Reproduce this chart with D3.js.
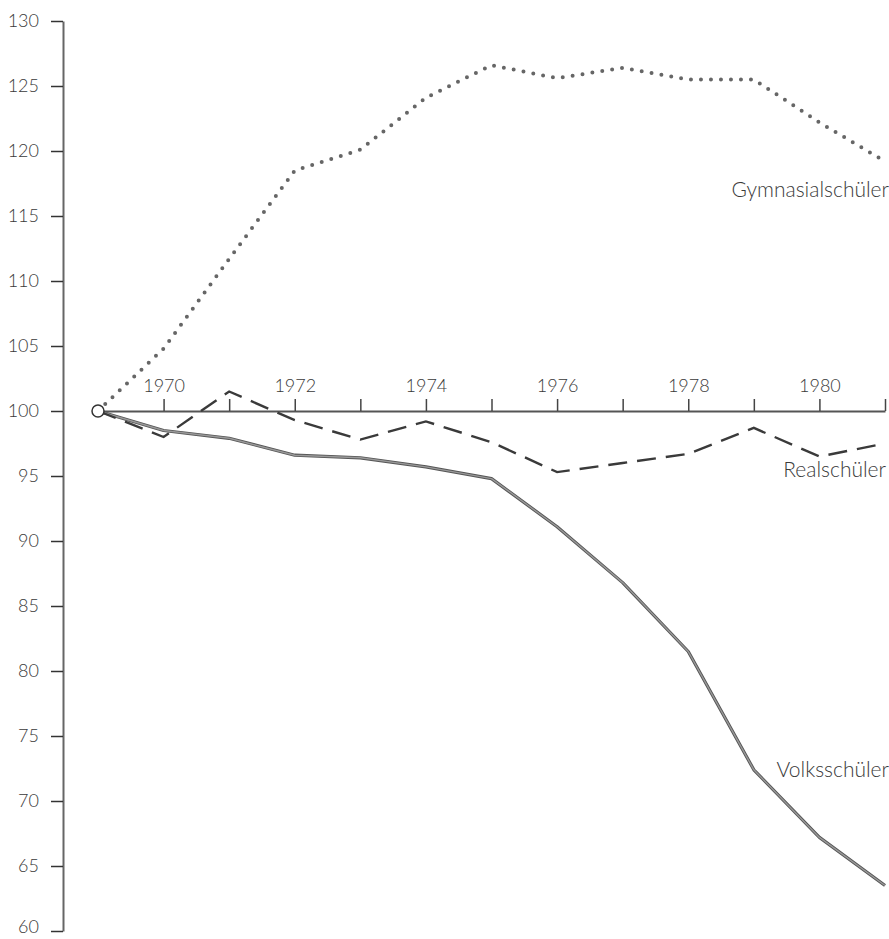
<!DOCTYPE html>
<html><head><meta charset="utf-8">
<script src="https://cdn.jsdelivr.net/npm/d3@7"></script>
<style>
html,body{margin:0;padding:0;background:#fff;}
svg text{font-family:Lato,"DejaVu Sans",sans-serif;font-weight:300;fill:#3a3a3a;}
</style></head>
<body>
<svg id="chart" width="889" height="939"></svg>
<script>
const years = [1969,1970,1971,1972,1973,1974,1975,1976,1977,1978,1979,1980,1981];
const gymnasial = [100,104.8,111.7,118.5,120.1,124.1,126.6,125.6,126.4,125.5,125.5,122.2,119.2];
const realschule = [100,98.0,101.5,99.3,97.8,99.2,97.6,95.3,96.0,96.7,98.7,96.5,97.5];
const volksschule = [100,98.5,97.9,96.6,96.4,95.7,94.8,91.1,86.8,81.5,72.4,67.2,63.5];
const yTicks = [60,65,70,75,80,85,90,95,100,105,110,115,120,125,130];
const xTicks = [1970,1971,1972,1973,1974,1975,1976,1977,1978,1979,1980,1981];
const xLabels = [1970,1972,1974,1976,1978,1980];
const seriesNames = ["Gymnasialschüler","Realschüler","Volksschüler"];

const svg = d3.select("#chart");
const x = d3.scaleLinear().domain([1969,1981]).range([98,885]);
const y = d3.scaleLinear().domain([60,130]).range([931,21]);

// y axis
const yAxis = svg.append("g").attr("transform","translate(63,0)")
  .call(d3.axisLeft(y).tickValues(yTicks).tickSize(12).tickSizeOuter(0).tickPadding(12));
yAxis.select(".domain").attr("stroke","#666").attr("stroke-width",2);
yAxis.selectAll(".tick line").attr("stroke","#333").attr("stroke-width",1.5);
yAxis.selectAll(".tick text").attr("font-size",18).style("font-family","Lato, sans-serif").style("font-weight",300).attr("fill","#3a3a3a")
  .attr("dy", d => d === 60 ? "0.1em" : "0.32em");

// x axis along 100
const xAxis = svg.append("g").attr("transform",`translate(0,${y(100)})`)
  .call(d3.axisTop(x).tickValues(xTicks).tickSize(12).tickSizeOuter(0).tickPadding(7)
    .tickFormat(d => xLabels.includes(d) ? String(d) : ""));
xAxis.select(".domain").attr("stroke","#555").attr("stroke-width",2);
xAxis.selectAll(".tick line").attr("stroke","#444").attr("stroke-width",1.5);
xAxis.selectAll(".tick text").attr("font-size",18).style("font-family","Lato, sans-serif").style("font-weight",300).attr("fill","#3a3a3a");

const line = d3.line().x((d,i)=>x(years[i])).y(d=>y(d));

// Volksschüler solid
svg.append("path").datum(volksschule).attr("d",line)
  .attr("fill","none").attr("stroke","#555").attr("stroke-width",3.2).attr("stroke-linejoin","round");
svg.append("path").datum(volksschule).attr("d",line)
  .attr("fill","none").attr("stroke","#999").attr("stroke-width",1.4).attr("stroke-linejoin","round");

// Realschüler dashed
svg.append("path").datum(realschule).attr("d",line)
  .attr("fill","none").attr("stroke","#3a3a3a").attr("stroke-width",2.4)
  .attr("stroke-dasharray","19 10");

// Gymnasial dotted
svg.append("path").datum(gymnasial).attr("d",line)
  .attr("fill","none").attr("stroke","#666").attr("stroke-width",4)
  .attr("stroke-linecap","round").attr("stroke-dasharray","0 10");

// origin circle
svg.append("circle").attr("cx",x(1969)).attr("cy",y(100)).attr("r",6)
  .attr("fill","#fff").attr("stroke","#333").attr("stroke-width",1.5);

// series labels
const labelPos = [[889,197],[886,477],[889,777]];
svg.selectAll("text.series").data(seriesNames).enter().append("text")
  .attr("class","series").attr("x",(d,i)=>labelPos[i][0]).attr("y",(d,i)=>labelPos[i][1])
  .attr("text-anchor","end").attr("font-size",21).text(d=>d);
</script>
</body></html>
